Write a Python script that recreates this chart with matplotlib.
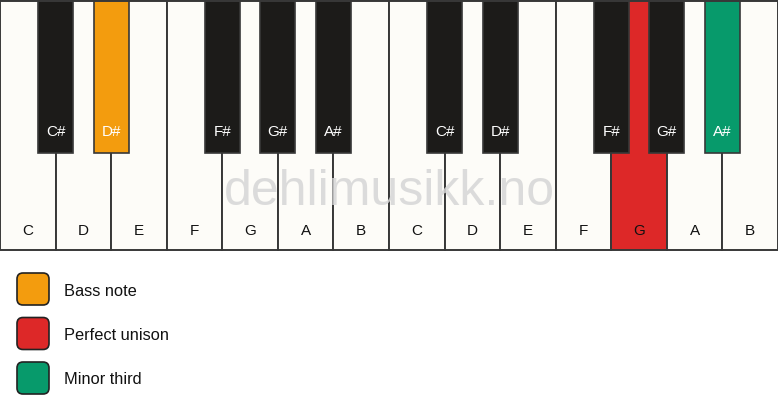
import matplotlib
matplotlib.use("Agg")
import matplotlib.pyplot as plt
from matplotlib.patches import Rectangle, FancyBboxPatch

plt.rcParams['font.family'] = ['Liberation Sans', 'DejaVu Sans']

white_notes = ["C", "D", "E", "F", "G", "A", "B"] * 2
black_notes = ["C#", "D#", "F#", "G#", "A#"] * 2
# black key position = boundary index between white keys
black_pos = [1, 2, 4, 5, 6, 8, 9, 11, 12, 13]
# highlighted keys: index -> colour
highlight_white = {11: "#dd2828"}          # G (octave 2)
highlight_black = {1: "#f39c0e", 9: "#079a6b"}  # D# (oct 1), A# (oct 2)
legend_labels = ["Bass note", "Perfect unison", "Minor third"]
legend_colors = ["#f39c0e", "#dd2828", "#079a6b"]

W, H = 778, 417
fig = plt.figure(figsize=(W / 100, H / 100), dpi=100)
ax = fig.add_axes([0, 0, 1, 1])
ax.set_xlim(0, W)
ax.set_ylim(H, 0)
ax.axis("off")

kw = W / len(white_notes)
kb_h = 250
bk_w = 35
bk_h = 153
edge = "#383838"

for i, n in enumerate(white_notes):
    fc = highlight_white.get(i, "#fdfcf8")
    ax.add_patch(Rectangle((i * kw, 0), kw, kb_h, facecolor=fc, edgecolor=edge, lw=1.4, zorder=1))
    ax.text(i * kw + kw / 2, 231, n, ha="center", va="center", fontsize=11, color="#111111", zorder=5)

ax.text(W / 2, 192, "dehlimusikk.no", ha="center", va="center", fontsize=36,
        color="#d6d6d6", alpha=0.85, zorder=2)

for j, (p, n) in enumerate(zip(black_pos, black_notes)):
    fc = highlight_black.get(j, "#1c1b19")
    cx = p * kw
    ax.add_patch(Rectangle((cx - bk_w / 2, 0), bk_w, bk_h, facecolor=fc, edgecolor=edge, lw=1.2, zorder=3))
    ax.text(cx, 132, n, ha="center", va="center", fontsize=11, color="white", zorder=5)

# outer top line
ax.plot([0, W], [0.7, 0.7], color=edge, lw=1.4, zorder=4)

for k, (lab, c) in enumerate(zip(legend_labels, legend_colors)):
    y0 = 273 + k * 44.5
    ax.add_patch(FancyBboxPatch((17, y0), 32, 32, boxstyle="round,pad=0,rounding_size=6",
                                facecolor=c, edgecolor="#222222", lw=1.2, zorder=3))
    ax.text(64, y0 + 18, lab, ha="left", va="center", fontsize=11.8, color="#111111")

fig.savefig("out.png", dpi=100, facecolor="white")
